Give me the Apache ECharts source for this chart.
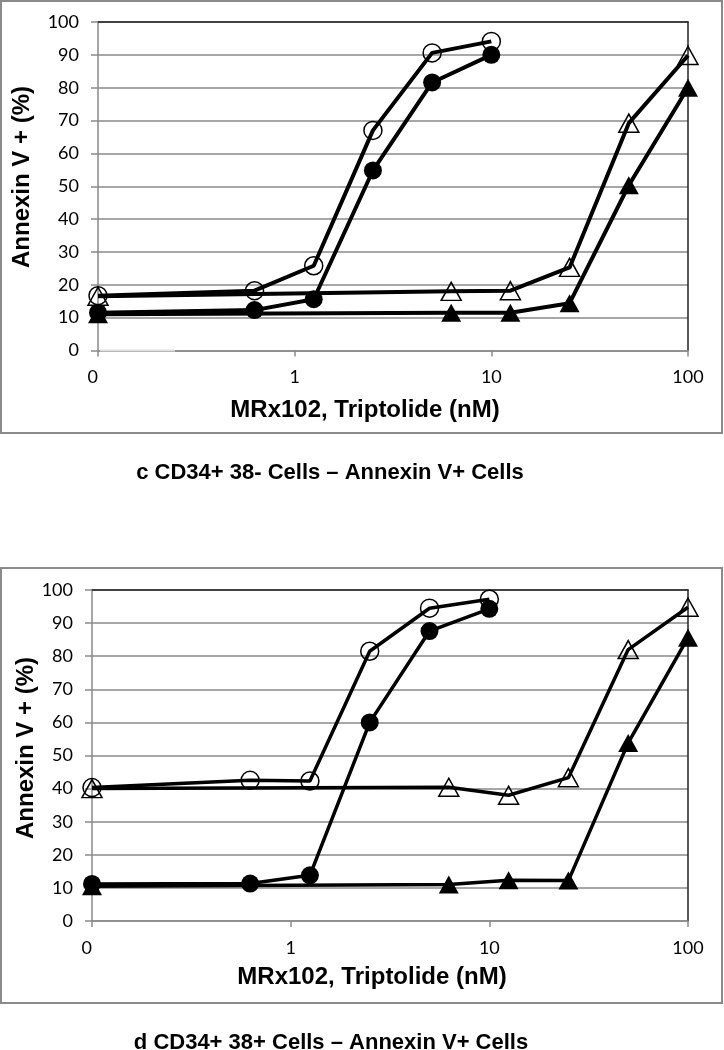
<!DOCTYPE html>
<html>
<head>
<meta charset="utf-8">
<script src="https://cdn.jsdelivr.net/npm/echarts@6/dist/echarts.min.js"></script>
<style>html,body{margin:0;padding:0;background:#fff}#c{width:724px;height:1050px}</style>
</head>
<body>
<div id="c"></div>
<script>
// Doses (nM); the lowest dose sits at the axis minimum 0.1, labelled "0"
const doseMRx = [0.1, 0.625, 1.25, 2.5, 5, 10];
const doseTrip = [0.1, 6.25, 12.5, 25, 50, 100];
const xTickLabels = {0.1: '0', 1: '1', 10: '10', 100: '100'};

// Panel c: CD34+ 38- cells
const cOpenCircle = [16.7, 18.2, 25.8, 67, 90.6, 94.1];
const cFilledCircle = [11.5, 12.3, 15.6, 54.8, 81.6, 90];
const cOpenTri = [16.5, 18, 18.2, 25.3, 69.2, 89.8];
const cFilledTri = [11, 11.5, 11.5, 14.4, 50.3, 80];

// Panel d: CD34+ 38+ cells
const dOpenCircle = [40.3, 42.5, 42.3, 81.5, 94.5, 97.2];
const dFilledCircle = [11.2, 11.3, 13.8, 60, 87.6, 94.3];
const dOpenTri = [40, 40.4, 38, 43.3, 82, 94.8];
const dFilledTri = [10.5, 11, 12.3, 12.2, 53.8, 85.6];

const captionC = 'c CD34+ 38- Cells \u2013 Annexin V+ Cells';
const captionD = 'd CD34+ 38+ Cells \u2013 Annexin V+ Cells';
const xTitle = 'MRx102, Triptolide (nM)';
const yTitle = 'Annexin V + (%)';

const pair = (xs, ys) => xs.map((x, i) => [x, ys[i]]);
const GRAY = '#8a8a8a';
const tickFont = {fontFamily: 'Lato', fontSize: 18, color: '#000'};
const TITLE_FONT = 'bold 24px "Liberation Sans"';

const grids = [
  {left: 98, top: 22, width: 590, height: 328.5},
  {left: 92, top: 590, width: 596, height: 331}
];

const xAxes = [], yAxes = [], series = [];
grids.forEach((g, gi) => {
  xAxes.push({
    gridIndex: gi, type: 'log', logBase: 10, min: 0.1, max: 100,
    axisLine: {show: true, lineStyle: {color: GRAY, width: 1.5}},
    axisTick: {show: true, length: 6, lineStyle: {color: GRAY, width: 1.5}},
    splitLine: {show: false},
    axisLabel: Object.assign({margin: 18, alignMinLabel: 'right',
      formatter: v => { const k = Math.round(v * 10) / 10; return xTickLabels[k] !== undefined ? xTickLabels[k] : String(v); }}, tickFont)
  });
  xAxes.push({
    gridIndex: gi, type: 'value', position: 'top', min: 0, max: 1,
    axisLine: {show: true, onZero: false, lineStyle: {color: '#222', width: 1.5}},
    axisTick: {show: false}, axisLabel: {show: false}, splitLine: {show: false}
  });
  yAxes.push({
    gridIndex: gi, type: 'value', min: 0, max: 100, interval: 10,
    axisLine: {show: true, lineStyle: {color: GRAY, width: 1.5}},
    axisTick: {show: true, length: 7, lineStyle: {color: GRAY, width: 1.5}},
    splitLine: {show: true, lineStyle: {color: GRAY, width: 1.5}},
    axisLabel: Object.assign({margin: 19}, tickFont)
  });
  yAxes.push({
    gridIndex: gi, type: 'value', position: 'right', min: 0, max: 1,
    axisLine: {show: true, onZero: false, lineStyle: {color: '#222', width: 1.5}},
    axisTick: {show: false}, axisLabel: {show: false}, splitLine: {show: false}
  });
});

function addSeries(gi, xs, ys, symbol, filled, lw) {
  series.push({
    type: 'line', xAxisIndex: gi * 2, yAxisIndex: gi * 2,
    data: pair(xs, ys),
    symbol: symbol,
    symbolSize: symbol === 'triangle' ? [20, 18] : 18,
    showAllSymbol: true,
    lineStyle: {color: '#000', width: lw},
    itemStyle: {color: filled ? '#000' : 'rgba(255,255,255,0)', borderColor: '#000', borderWidth: filled ? 0 : 1.5, opacity: 1},
    emphasis: {disabled: true},
    z: 3
  });
}
addSeries(0, doseMRx, cOpenCircle, 'circle', false, 4);
addSeries(0, doseMRx, cFilledCircle, 'circle', true, 4);
addSeries(0, doseTrip, cOpenTri, 'triangle', false, 4);
addSeries(0, doseTrip, cFilledTri, 'triangle', true, 4);
addSeries(1, doseMRx, dOpenCircle, 'circle', false, 3.5);
addSeries(1, doseMRx, dFilledCircle, 'circle', true, 3.5);
addSeries(1, doseTrip, dOpenTri, 'triangle', false, 3.5);
addSeries(1, doseTrip, dFilledTri, 'triangle', true, 3.5);

function txt(text, x, y, font, rot) {
  return {type: 'text', x: x, y: y, rotation: rot || 0,
    style: {text: text, align: 'center', verticalAlign: 'middle', font: font, fill: '#000'}};
}

const chart = echarts.init(document.getElementById('c'), null, {renderer: 'canvas'});
chart.setOption({
  animation: false,
  backgroundColor: '#fff',
  grid: grids.map(g => Object.assign({containLabel: false}, g)),
  xAxis: xAxes,
  yAxis: yAxes,
  series: series,
  graphic: [
    {type: 'rect', shape: {x: 1, y: 1, width: 721, height: 432}, style: {fill: 'none', stroke: GRAY, lineWidth: 2}, z: 0},
    {type: 'rect', shape: {x: 1, y: 568, width: 721, height: 435}, style: {fill: 'none', stroke: GRAY, lineWidth: 2}, z: 0},
    {type: 'line', shape: {x1: 100, y1: 350.5, x2: 175, y2: 350.5}, style: {stroke: '#dedede', lineWidth: 2}, z: 10},
    txt(xTitle, 365, 410, TITLE_FONT),
    txt(xTitle, 372, 977, TITLE_FONT),
    txt(yTitle, 22, 177, TITLE_FONT, Math.PI / 2),
    txt(yTitle, 26, 748, TITLE_FONT, Math.PI / 2),
    txt(captionC, 330, 473, 'bold 22px "Liberation Sans"'),
    txt(captionD, 331, 1043, 'bold 22px "Liberation Sans"')
  ]
});
</script>
</body>
</html>
